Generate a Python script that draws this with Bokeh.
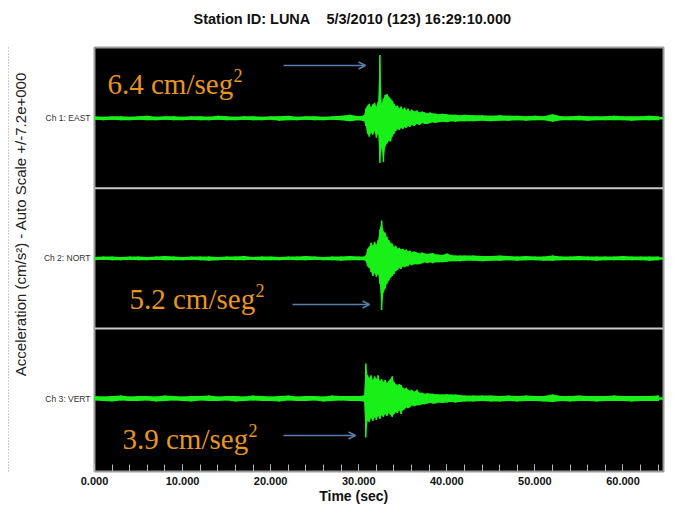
import math
from bokeh.plotting import figure
from bokeh.models import (ColumnDataSource, Range1d, FixedTicker, NumeralTickFormatter,
                          Label, Span, Arrow, OpenHead, LinearAxis)
from bokeh.embed import file_html
from bokeh.resources import INLINE

# ---------------- data ----------------
TITLE = "Station ID: LUNA\u00a0\u00a0\u00a0\u00a05/3/2010 (123) 16:29:10.000"
Y_LABEL = "Acceleration (cm/s\u00b2) - Auto Scale +/-7.2e+000"
X_LABEL = "Time (sec)"
CHANNELS = ["Ch 1: EAST", "Ch 2: NORT", "Ch 3: VERT"]
OFFSETS = [28.8, 14.4, 0.0]          # stacked panel centres (cm/s^2), +/-7.2 auto scale each
X_TICKS = [0, 10, 20, 30, 40, 50, 60]
X_MINOR = list(range(0, 65, 2))

TIME = ([0, 1, 2, 3, 4, 5, 6, 7, 8, 9, 10, 11, 12, 13, 14, 15, 16, 17, 18, 19, 20,
         21, 22, 23, 24, 25, 26, 27, 28, 29, 30]
        + [30.6, 30.8, 31.0, 31.2, 31.4, 31.6, 31.8, 32.0, 32.2, 32.4, 32.6, 32.8, 33.0, 33.2,
           33.4, 33.6, 33.8, 34.0, 34.2, 34.4, 34.6, 34.8, 35.0, 35.2, 35.4, 35.6, 35.8, 36.0]
        + [36.3, 36.6, 36.9, 37.2, 37.5, 37.8, 38.1, 38.4, 38.7]
        + [39.0, 39.5, 40.0, 40.5, 41.0, 41.5, 42.0]
        + [43, 44, 45, 46, 47, 48, 49, 50, 51, 52, 53, 54, 55, 56, 57, 58, 59, 60, 61, 62, 63, 64])

EAST_UP = ([0.2, 0.15, 0.2, 0.2, 0.15, 0.2, 0.25, 0.15, 0.2, 0.2, 0.15, 0.2, 0.2, 0.15, 0.25, 0.2,
            0.15, 0.2, 0.2, 0.15, 0.2, 0.2, 0.25, 0.15, 0.2, 0.2, 0.15, 0.2, 0.25, 0.35, 0.2]
           + [0.3, 1.0, 1.3, 1.5, 1.1, 1.4, 1.6, 1.2, 1.7, 6.5, 1.5, 2.0, 2.4, 2.5, 2.2, 2.0, 1.8,
              1.5, 1.2, 1.3, 1.0, 1.2, 0.9, 1.1, 0.8, 1.0, 0.7, 0.9]
           + [0.7, 0.8, 0.6, 0.7, 0.6, 0.5, 0.6, 0.5, 0.5]
           + [0.4, 0.45, 0.4, 0.35, 0.35, 0.3, 0.35]
           + [0.3, 0.3, 0.25, 0.3, 0.25, 0.25, 0.2, 0.25, 0.2, 0.4, 0.2, 0.2, 0.25, 0.2, 0.2, 0.2,
              0.25, 0.2, 0.2, 0.2, 0.25, 0.2])
EAST_LO = ([0.15, 0.2, 0.15, 0.2, 0.2, 0.15, 0.2, 0.2, 0.15, 0.2, 0.2, 0.15, 0.2, 0.2, 0.15, 0.2,
            0.2, 0.15, 0.2, 0.2, 0.15, 0.25, 0.2, 0.2, 0.15, 0.2, 0.2, 0.15, 0.2, 0.3, 0.2]
           + [0.3, 0.8, 1.6, 1.9, 1.5, 1.7, 1.3, 2.0, 1.6, 4.6, 3.0, 4.5, 2.9, 2.6, 2.3, 2.4, 1.9,
              1.6, 1.3, 1.1, 1.2, 1.0, 1.1, 0.9, 1.0, 0.8, 0.9, 0.7]
           + [0.8, 0.6, 0.7, 0.5, 0.6, 0.6, 0.5, 0.4, 0.5]
           + [0.4, 0.35, 0.4, 0.3, 0.35, 0.3, 0.3]
           + [0.3, 0.25, 0.3, 0.25, 0.25, 0.2, 0.25, 0.2, 0.2, 0.35, 0.2, 0.2, 0.2, 0.25, 0.2, 0.2,
              0.2, 0.2, 0.25, 0.2, 0.2, 0.2])

NORT_UP = ([0.15, 0.2, 0.2, 0.15, 0.2, 0.2, 0.15, 0.2, 0.25, 0.2, 0.15, 0.2, 0.2, 0.2, 0.15, 0.2,
            0.2, 0.25, 0.15, 0.2, 0.2, 0.15, 0.2, 0.2, 0.25, 0.2, 0.15, 0.2, 0.2, 0.25, 0.2]
           + [0.2, 0.3, 1.0, 1.2, 1.6, 1.3, 1.7, 1.4, 1.9, 3.0, 3.9, 2.8, 2.6, 2.2, 1.9, 1.6, 1.5,
              1.2, 1.3, 1.0, 1.1, 0.9, 1.0, 0.8, 0.9, 0.7, 0.8, 0.6]
           + [0.7, 0.6, 0.5, 0.6, 0.5, 0.45, 0.5, 0.55, 0.4]
           + [0.4, 0.35, 0.5, 0.35, 0.3, 0.3, 0.3]
           + [0.3, 0.25, 0.25, 0.3, 0.25, 0.2, 0.25, 0.2, 0.2, 0.3, 0.2, 0.2, 0.25, 0.2, 0.2, 0.2,
              0.2, 0.25, 0.2, 0.2, 0.2, 0.2])
NORT_LO = ([0.2, 0.15, 0.2, 0.2, 0.15, 0.2, 0.2, 0.15, 0.2, 0.2, 0.2, 0.15, 0.2, 0.25, 0.2, 0.15,
            0.2, 0.2, 0.15, 0.2, 0.2, 0.2, 0.15, 0.2, 0.2, 0.15, 0.2, 0.2, 0.25, 0.2, 0.2]
           + [0.2, 0.3, 0.8, 1.0, 1.4, 1.8, 1.5, 1.9, 1.6, 2.6, 5.3, 3.5, 3.1, 2.6, 2.3, 2.0, 1.8,
              1.6, 1.3, 1.2, 1.0, 1.1, 0.8, 0.9, 0.8, 0.8, 0.6, 0.7]
           + [0.6, 0.6, 0.6, 0.5, 0.4, 0.5, 0.4, 0.5, 0.4]
           + [0.4, 0.4, 0.35, 0.3, 0.3, 0.3, 0.25]
           + [0.25, 0.3, 0.25, 0.25, 0.2, 0.25, 0.2, 0.2, 0.25, 0.25, 0.2, 0.2, 0.2, 0.2, 0.25, 0.2,
              0.2, 0.2, 0.2, 0.2, 0.25, 0.2])

VERT_UP = ([0.25, 0.2, 0.25, 0.3, 0.2, 0.25, 0.25, 0.2, 0.3, 0.25, 0.2, 0.25, 0.25, 0.3, 0.2, 0.25,
            0.25, 0.2, 0.3, 0.25, 0.2, 0.25, 0.3, 0.2, 0.25, 0.25, 0.2, 0.3, 0.25, 0.25, 0.25]
           + [0.3, 3.6, 2.4, 2.1, 2.4, 1.9, 2.3, 2.0, 2.4, 1.8, 2.0, 1.7, 1.9, 1.6, 1.8, 2.0, 2.3,
              1.7, 1.5, 1.3, 1.5, 1.4, 1.1, 1.0, 1.1, 0.9, 0.8, 0.9]
           + [0.7, 0.9, 0.6, 0.6, 0.5, 0.55, 0.5, 0.5, 0.45]
           + [0.45, 0.4, 0.45, 0.4, 0.4, 0.35, 0.3]
           + [0.3, 0.3, 0.3, 0.25, 0.3, 0.25, 0.3, 0.25, 0.25, 0.4, 0.25, 0.25, 0.3, 0.25, 0.25,
              0.25, 0.3, 0.25, 0.25, 0.25, 0.25, 0.3])
VERT_LO = ([0.2, 0.25, 0.3, 0.2, 0.25, 0.25, 0.2, 0.3, 0.25, 0.2, 0.25, 0.3, 0.2, 0.25, 0.25, 0.2,
            0.3, 0.25, 0.2, 0.25, 0.25, 0.3, 0.2, 0.25, 0.25, 0.2, 0.3, 0.25, 0.2, 0.25, 0.25]
           + [0.3, 4.0, 2.3, 2.4, 2.0, 2.3, 1.9, 2.2, 1.8, 2.1, 1.7, 1.9, 1.6, 1.8, 1.5, 1.7, 1.9,
              1.6, 1.4, 1.5, 1.2, 1.6, 1.2, 1.1, 0.9, 1.0, 0.9, 0.7]
           + [0.8, 0.7, 0.7, 0.6, 0.6, 0.5, 0.45, 0.5, 0.5]
           + [0.4, 0.45, 0.4, 0.35, 0.4, 0.35, 0.3]
           + [0.3, 0.25, 0.3, 0.3, 0.25, 0.3, 0.25, 0.25, 0.3, 0.35, 0.25, 0.3, 0.25, 0.25, 0.3,
              0.25, 0.25, 0.25, 0.3, 0.25, 0.25, 0.25])

PEAK_TEXT = ["6.4 cm/seg", "5.2 cm/seg", "3.9 cm/seg"]

# ---------------- figure ----------------
GREEN = "#19f019"
ORANGE = "#e8961c"
ARROW = "#5a7eab"
NB = "\u00a0"

p = figure(width=674, height=506, output_backend="svg", toolbar_location=None,
           x_range=Range1d(0, 64.6), y_range=Range1d(-7.5, 36.07),
           min_border_left=94, min_border_right=11, min_border_top=47, min_border_bottom=35,
           background_fill_color="black", border_fill_color="white",
           outline_line_color="#9a9a9a", outline_line_width=2)
p.grid.visible = False

# title (shifted left of frame centre like the original; empty 2nd line lifts it up)
p.title.text = TITLE + "\n" + NB
p.title.align = "left"
p.title.vertical_align = "top"
p.title.offset = 99
p.title.standoff = 6
p.title.text_font = "Liberation Sans"
p.title.text_font_style = "bold"
p.title.text_font_size = "14.5px"
p.title.text_color = "#111111"

for up, lo, off in zip([EAST_UP, NORT_UP, VERT_UP], [EAST_LO, NORT_LO, VERT_LO], OFFSETS):
    src = ColumnDataSource(dict(t=TIME,
                                top=[off + u for u in up],
                                bot=[off - l for l in lo]))
    p.varea(x="t", y1="bot", y2="top", source=src, fill_color=GREEN)
    p.segment(x0="t", y0="bot", x1="t", y1="top", source=src,
              line_color=GREEN, line_width=1.6)
    p.line(x=[0, 64.6], y=[off, off], line_color=GREEN, line_width=2.5)

for sep in [7.2, 21.6]:
    p.add_layout(Span(location=sep, dimension="width", line_color="#c8c8c8", line_width=2))

# x axis
xa = p.xaxis[0]
xa.ticker = FixedTicker(ticks=X_TICKS, minor_ticks=X_MINOR)
xa.formatter = NumeralTickFormatter(format="0.000")
xa.major_tick_in = 7
xa.major_tick_out = 0
xa.minor_tick_in = 7
xa.minor_tick_out = 0
xa.major_tick_line_color = "#b4b4b4"
xa.minor_tick_line_color = "#b4b4b4"
xa.axis_line_color = None
xa.major_label_standoff = 5
xa.major_label_text_font = "Liberation Sans"
xa.major_label_text_font_style = "bold"
xa.major_label_text_font_size = "11px"
xa.major_label_text_color = "#111111"
xa.axis_label = X_LABEL + NB * 13
xa.axis_label_standoff = 0
xa.axis_label_text_font = "Liberation Sans"
xa.axis_label_text_font_style = "bold"
xa.axis_label_text_font_size = "14px"
xa.axis_label_text_color = "#111111"

# y axis: channel names + rotated label
ya = p.yaxis[0]
ya.ticker = FixedTicker(ticks=OFFSETS, minor_ticks=[])
ya.major_label_overrides = {OFFSETS[i]: CHANNELS[i] for i in range(3)}
ya.major_tick_in = 0
ya.major_tick_out = 0
ya.axis_line_color = None
ya.major_label_standoff = 4
ya.major_label_text_font = "Liberation Sans"
ya.major_label_text_font_size = "8.5px"
ya.major_label_text_color = "#333333"
ya.axis_label = NB * 17 + Y_LABEL
ya.axis_label_standoff = 12
ya.axis_label_text_font = "Liberation Sans"
ya.axis_label_text_font_style = "normal"
ya.axis_label_text_font_size = "15px"
ya.axis_label_text_color = "#222222"

# dotted page-margin line on the far left
edge = LinearAxis(ticker=FixedTicker(ticks=[]), axis_line_color="#9a9a9a", axis_line_dash="1 2",
                  axis_line_width=1, major_tick_line_color=None, minor_tick_line_color=None,
                  major_label_text_font_size="0px")
p.add_layout(edge, "left")

FL, FB = 94, 471  # frame left / bottom in page pixels (screen units are frame relative)

def lab(text, X, Y, **kw):
    p.add_layout(Label(x=X - FL, y=FB - Y, x_units="screen", y_units="screen", text=text, **kw))

# peak annotations
for txt, (tx, ty), (ax0, ax1, ay) in zip(PEAK_TEXT,
                                         [(107, 83), (129, 298), (122, 438)],
                                         [(283, 365, 65), (292, 369, 304), (283, 355, 435)]):
    lab(txt, tx, ty, text_font="Liberation Serif", text_font_size="29px",
        text_color=ORANGE, text_baseline="alphabetic")
    lab("2", tx + 126, ty - 8, text_font="Liberation Serif", text_font_size="18px",
        text_color=ORANGE, text_baseline="alphabetic")
    p.add_layout(Arrow(x_start=ax0 - FL, x_end=ax1 - FL, y_start=FB - ay, y_end=FB - ay,
                       start_units="screen", end_units="screen",
                       line_color=ARROW, line_width=1.5,
                       end=OpenHead(size=7, line_color=ARROW, line_width=1.5)))

open("out.html", "w").write(file_html(p, INLINE))
